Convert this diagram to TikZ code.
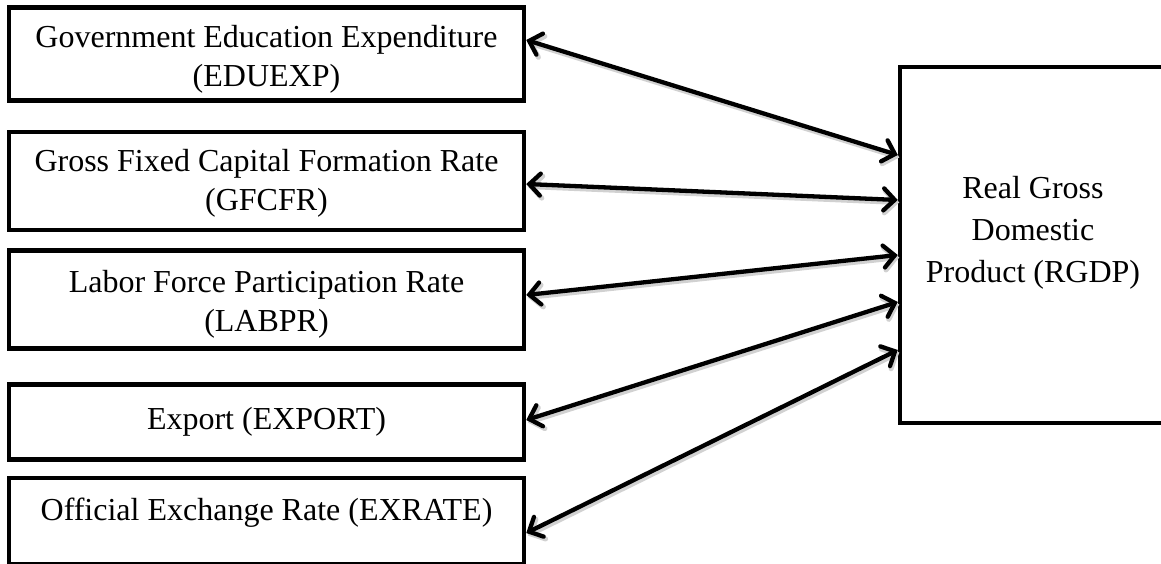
\documentclass[tikz,border=0pt]{standalone}
\usepackage{fontspec}
\setmainfont{Liberation Serif}
\usetikzlibrary{arrows.meta}
\tikzset{barbtip/.tip={Straight Barb[length=11pt,width=22pt,line cap=round]}}
\begin{document}
\begin{tikzpicture}[x=1pt,y=-1pt,
  box/.style={draw, line width=4.5pt, inner sep=0pt},
  lbl/.style={inner sep=0pt, font=\fontsize{32}{39}\selectfont, align=center},
  rlbl/.style={inner sep=0pt, font=\fontsize{32}{42}\selectfont, align=center},
  conn/.style={line width=4.3pt, line cap=round, {barbtip}-{barbtip},
    preaction={draw=black!18, line width=5pt, transform canvas={shift={(1.5pt,-2.5pt)}}}}]
\useasboundingbox (0,0) rectangle (1161,564);
\node[box, minimum width=515pt, minimum height=93pt] (b1) at (266.5,54) {};
\node[lbl] (t1) at ([yshift=-5pt]b1.center) {Government Education Expenditure\\(EDUEXP)};
\node[box, minimum width=515pt, minimum height=98pt] (b2) at (266.5,181) {};
\node[lbl] (t2) at ([yshift=-2pt]b2.center) {Gross Fixed Capital Formation Rate\\(GFCFR)};
\node[box, minimum width=515pt, minimum height=98pt] (b3) at (266.5,299.5) {};
\node[lbl] (t3) at ([yshift=-5pt]b3.center) {Labor Force Participation Rate\\(LABPR)};
\node[box, minimum width=515pt, minimum height=75pt] (b4) at (266.5,422) {};
\node[lbl] (t4) at (b4.center) {Export (EXPORT)};
\node[box, minimum width=515pt, minimum height=86pt] (b5) at (266.5,521) {};
\node[lbl] (t5) at ([yshift=8pt]b5.center) {Official Exchange Rate (EXRATE)};
\node[box, minimum width=266pt, minimum height=356pt] (r) at (1033,245) {};
\node[rlbl] (tr) at ([yshift=12pt]r.center) {Real Gross\\Domestic\\Product (RGDP)};
\draw[conn] ([yshift=14pt]b1.east) -- ([yshift=90pt]r.west);
\draw[conn] ([yshift=-3pt]b2.east) -- ([yshift=45pt]r.west);
\draw[conn] ([yshift=4.5pt]b3.east) -- ([yshift=-10pt]r.west);
\draw[conn] ([yshift=2pt]b4.east) -- ([yshift=-57pt]r.west);
\draw[conn] ([yshift=-12pt]b5.east) -- ([yshift=-105pt]r.west);
\end{tikzpicture}
\end{document}
